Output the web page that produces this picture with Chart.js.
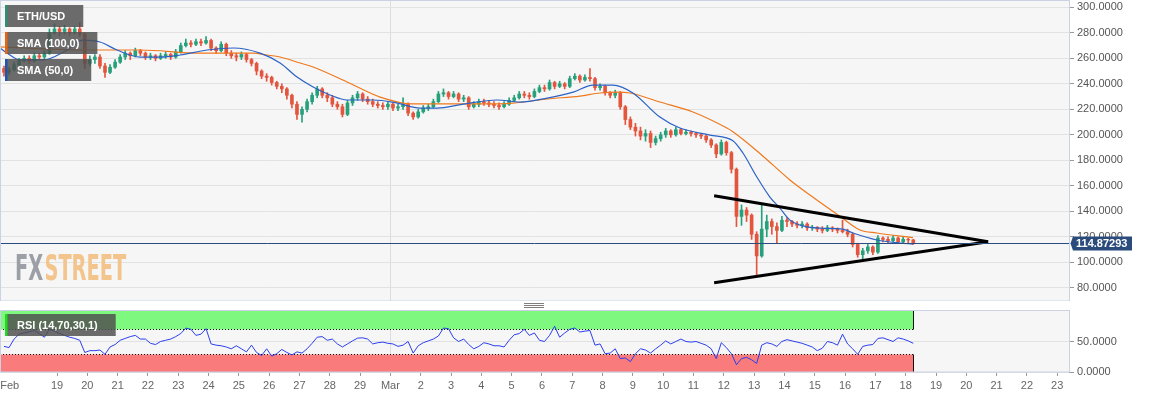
<!DOCTYPE html>
<html>
<head>
<meta charset="utf-8">
<title>ETH/USD</title>
<script src="https://cdn.jsdelivr.net/npm/chart.js@4.4.1/dist/chart.umd.min.js"></script>
<style>
  html, body { margin: 0; padding: 0; background: #fff; }
  #wrap { position: relative; width: 1153px; height: 399px; overflow: hidden; }
  canvas { position: absolute; left: 0; }
  #price-chart { top: 0; }
  #rsi-chart { top: 300px; }
</style>
</head>
<body>
<div id="wrap">
  <canvas id="price-chart" width="1153" height="301"></canvas>
  <canvas id="rsi-chart" width="1153" height="99"></canvas>
</div>
<script>
// ── Data ───────────────────────────────────────────────────────────
// time unit = days since Feb 18 00:00, one candle every 4 hours
const START_DAY = -0.75;
const STEP = 1 / 6;
const FIRST_OPEN = 252;
const LAST_PRICE = 114.87293;

const closes = [
  249, 251, 255, 258, 260, 258, 262, 261, 264, 280,
  283, 281, 283, 280, 283, 279, 256, 259, 261, 254,
  249, 253, 257, 261, 264, 262, 266, 264, 261, 262,
  260, 262, 263, 261, 265, 270, 272, 271, 273, 272,
  274, 268, 266, 271, 264, 262, 261, 263, 259, 256,
  250, 246, 245, 241, 238, 236, 231, 224, 216, 220,
  226, 231, 236, 231, 229, 224, 222, 216, 225, 229,
  232, 228, 226, 224, 223, 222, 224, 221, 222, 224,
  217, 214, 218, 221, 222, 226, 232, 233, 230, 232,
  228, 229, 222, 224, 226, 225, 224, 223, 222, 224,
  227, 229, 232, 231, 230, 234, 237, 236, 241, 238,
  240, 238, 244, 246, 243, 245, 244, 237, 238, 233,
  231, 233, 222, 212, 206, 203, 199, 201, 194, 197,
  200, 203, 200, 204, 201, 202, 201, 200, 199, 196,
  192, 185, 194, 186, 173, 136, 141, 137, 122, 105,
  126, 132, 128, 125, 133, 132, 130, 129, 130, 127,
  127.5, 126, 125, 127, 126, 125, 124, 122, 114, 106,
  109, 112, 108, 119, 118, 117, 119, 116, 118, 117.5,
  114.87
];

const highs = [
  254, 253, 257, 260, 262, 262, 264, 264, 266, 283,
  287, 285, 286, 284, 285, 288, 280, 262, 263, 263,
  256, 255, 259, 263, 266, 265, 268, 267, 265, 264,
  263, 264, 265, 264, 267, 272, 275, 274, 275, 275,
  277, 275, 269, 273, 272, 266, 264, 265, 264, 260,
  257, 251, 248, 246, 242, 240, 237, 232, 226, 222,
  228, 233, 238, 237, 233, 231, 226, 224, 227, 231,
  234, 233, 230, 228, 226, 225, 226, 225, 224, 229,
  225, 218, 220, 223, 224, 228, 234, 236, 234, 234,
  233, 231, 230, 226, 228, 228, 227, 226, 225, 226,
  229, 231, 234, 234, 233, 236, 239, 239, 243, 242,
  242, 241, 246, 248, 247, 247, 252, 245, 240, 239,
  234, 235, 234, 223, 214, 209, 206, 204, 203, 199,
  202, 205, 204, 206, 205, 204, 203, 202, 201, 200,
  197, 193, 196, 195, 187, 174, 145, 143, 138, 124,
  146, 137, 134, 131, 136, 135, 133, 132, 132, 131,
  129, 128, 128, 129, 128, 127, 133, 126, 123, 115,
  111, 114, 113, 121, 120, 120, 121, 120, 120, 119,
  118
];

const lows = [
  246, 247, 250, 254, 257, 256, 257, 259, 259, 263,
  279, 278, 279, 278, 279, 277, 252, 254, 256, 252,
  245, 248, 252, 256, 259, 259, 261, 262, 259, 259,
  258, 259, 260, 259, 260, 264, 269, 269, 270, 270,
  271, 266, 264, 265, 262, 260, 258, 259, 257, 254,
  247, 244, 242, 239, 236, 233, 228, 221, 212, 210,
  218, 224, 229, 229, 226, 222, 220, 214, 215, 223,
  227, 226, 224, 222, 221, 220, 220, 219, 219, 220,
  215, 212, 213, 217, 219, 221, 225, 230, 228, 229,
  226, 226, 220, 221, 222, 223, 222, 221, 220, 221,
  223, 226, 228, 229, 228, 229, 233, 234, 235, 236,
  237, 236, 237, 243, 241, 242, 242, 235, 235, 231,
  229, 229, 220, 208, 204, 199, 196, 195, 190, 192,
  195, 198, 198, 199, 200, 200, 199, 198, 197, 194,
  190, 182, 184, 184, 170, 128, 129, 132, 118, 90,
  104, 120, 122, 115, 124, 128, 128, 127, 127, 125,
  125, 124, 123, 124, 124, 123, 123, 120, 112, 104,
  102, 107, 106, 107, 116, 115, 116, 115, 115, 115,
  114
];

const rsiValues = [
  42, 40, 54, 62, 64, 66, 68, 63, 57, 70,
  67, 63, 60, 57, 55, 52, 32, 35, 35, 36,
  29, 41, 45, 52, 55, 58, 60, 54, 54, 47,
  45, 50, 52, 54, 58, 63, 72, 70, 60, 62,
  71, 46, 44, 43, 41, 38, 43, 38, 33, 44,
  32, 27, 38, 26, 30, 37, 32, 28, 33, 31,
  38, 47, 57, 58, 52, 54, 46, 41, 46, 51,
  55.5, 56, 54, 46, 48, 49, 47, 46, 42, 44,
  50, 31, 43, 48, 51, 54, 59, 72, 71, 56,
  50, 54, 45, 38, 42, 48, 46, 43, 43, 41,
  52, 61, 63, 70, 60, 64, 52, 50, 60, 75,
  57, 64, 70, 72, 65.5, 67, 68, 44, 46, 30,
  31, 38, 22, 23, 17, 30, 38, 36, 31, 38,
  44, 51, 46, 50, 54, 50, 49, 50, 47, 44,
  38, 22, 48, 40, 30, 12, 22, 24, 20, 14,
  44, 48, 46, 42, 50, 53, 51, 49, 47, 44,
  41, 35, 39, 50, 48, 44, 62, 46, 38, 29,
  42, 44, 45, 55, 56, 53, 50, 56, 54, 51,
  47
];

const sma100Days = [
  -0.88, 1.76, 3.74, 5.72, 6.81, 7.47, 7.93, 8.36, 9.02, 9.45,
  10.57, 11.66, 12.75, 13.87, 14.96, 16.04, 17.17, 18.25, 18.91, 19.48,
  19.90, 20.89, 21.98, 23.10, 23.30, 24.19, 25.18, 25.84, 26.83, 27.49,
  28.05, 29.24
];
const sma100Values = [
  268.9, 266.5, 266.5, 264.1, 264.1, 264.1, 262.6, 261.0, 256.3, 253.2,
  241.4, 229.6, 224.2, 224.2, 224.2, 224.9, 228.1, 230.4, 232.8, 233.5,
  232.8, 225.7, 217.9, 205.3, 202.4, 185.4, 164.6, 152.8, 136.1, 125.3,
  123.0, 119.4
];

const sma50Days = [
  -0.88, -0.65, -0.22, 0.54, 1.33, 1.86, 2.42, 2.98, 3.74, 4.40,
  5.06, 5.95, 6.81, 7.70, 8.36, 8.92, 9.45, 10.01, 10.57, 11.42,
  12.22, 12.98, 13.54, 14.40, 15.52, 16.28, 17.17, 18.03, 18.68, 19.34,
  20.00, 20.89, 21.55, 22.54, 23.30, 23.63, 24.09, 24.52, 24.85, 25.18,
  25.51, 26.17, 26.93, 27.26, 28.05, 28.81, 29.24
];
const sma50Values = [
  268.1, 264.1, 258.7, 258.7, 266.5, 274.3, 272.8, 266.5, 261.0, 261.0,
  262.6, 266.5, 268.1, 264.1, 256.3, 245.3, 237.5, 231.2, 227.3, 227.3,
  224.9, 221.0, 221.0, 224.1, 227.3, 225.7, 228.8, 233.5, 239.0, 239.0,
  232.8, 213.9, 205.3, 199.8, 195.3, 185.7, 166.9, 151.2, 142.5, 133.1,
  129.2, 126.8, 126.0, 123.0, 117.5, 115.1, 114.3
];

// hand drawn symmetrical triangle
const trendDays = [22.68, 31.72];
const upperTrend = [152.2, 116.1];
const lowerTrend = [83.9, 116.1];

const priceTicks = [80, 100, 120, 140, 160, 180, 200, 220, 240, 260, 280, 300];
const rsiTicks = [0, 50];
const dayTicks = [-0.56, 1, 2, 3, 4, 5, 6, 7, 8, 9, 10, 11, 12, 13, 14, 15, 16, 17,
  18, 19, 20, 21, 22, 23, 24, 25, 26, 27, 28, 29, 30, 31, 32, 33, 34];
const dayLabels = ['Feb', '19', '20', '21', '22', '23', '24', '25', '26', '27', '28', '29',
  'Mar', '2', '3', '4', '5', '6', '7', '8', '9', '10', '11', '12', '13', '14', '15', '16',
  '17', '18', '19', '20', '21', '22', '23'];
const MONTH_START = 12; // Mar 1

// ── Axis ranges ────────────────────────────────────────────────────
const X_MIN = -0.881;
const X_MAX = 34.388;
const PRICE_MIN = 69.65;
const PRICE_MAX = 305.73;
const RSI_MAX = 101.6;

// ── Colours ────────────────────────────────────────────────────────
const UP = '#27a07c';
const DOWN = '#e4553d';
const FRAME = '#cad2e4';
const PANEL_BG = '#f6f6f6';
const GRID = '#e2e2e2';
const FONT = "'Liberation Sans', Arial, sans-serif";

Chart.defaults.font.family = FONT;
Chart.defaults.font.size = 11;
Chart.defaults.animation = false;

// ── Derived series ─────────────────────────────────────────────────
const times = closes.map(function (c, i) { return START_DAY + i * STEP; });
const opens = closes.map(function (c, i) { return i === 0 ? FIRST_OPEN : closes[i - 1]; });
const candleColors = closes.map(function (c, i) { return c >= opens[i] ? UP : DOWN; });

function pairs(xs, ys) {
  return xs.map(function (x, i) { return { x: x, y: ys[i] }; });
}

// ── Small drawing helpers ──────────────────────────────────────────
function drawTag(ctx, x, y, text, strip) {
  ctx.save();
  ctx.font = 'bold 11px ' + FONT;
  const w = ctx.measureText(text).width + 30;
  ctx.fillStyle = 'rgba(80,80,80,0.84)';
  ctx.fillRect(x, y, w, 22);
  ctx.fillStyle = strip;
  ctx.fillRect(x, y, 2.5, 22);
  ctx.fillStyle = '#fff';
  ctx.textBaseline = 'middle';
  ctx.fillText(text, x + 12, y + 11.5);
  ctx.restore();
}

function drawFrame(ctx, a) {
  ctx.save();
  ctx.strokeStyle = FRAME;
  ctx.lineWidth = 1;
  ctx.strokeRect(a.left + 0.5, a.top + 0.5, a.right - a.left, a.bottom - a.top - 0.5);
  ctx.restore();
}

function fixedWidth(scale) {
  scale.width = 84;
  scale.paddingTop = 0;
  scale.paddingBottom = 0;
}

// ── Price panel ────────────────────────────────────────────────────
const priceDecor = {
  id: 'priceDecor',
  beforeDraw: function (chart) {
    const a = chart.chartArea;
    chart.ctx.save();
    chart.ctx.fillStyle = PANEL_BG;
    chart.ctx.fillRect(a.left, a.top, a.right - a.left, a.bottom - a.top);
    chart.ctx.restore();
  },
  beforeDatasetsDraw: function (chart) {
    // watermark
    const ctx = chart.ctx;
    const a = chart.chartArea;
    ctx.save();
    ctx.font = 'bold 35px "Liberation Sans Narrow", "DejaVu Sans Condensed", ' + FONT;
    const wFx = ctx.measureText('FX').width;
    const wSt = ctx.measureText('STREET').width;
    ctx.translate(a.left + 15, a.bottom - 21);
    ctx.scale(110 / (wFx + wSt), 1);
    ctx.fillStyle = '#9d9fa6';
    ctx.fillText('FX', 0, 0);
    ctx.fillStyle = '#f3c48c';
    ctx.fillText('STREET', wFx + 2, 0);
    ctx.restore();
  },
  afterDatasetsDraw: function (chart) {
    // current price line
    const ctx = chart.ctx;
    const a = chart.chartArea;
    const y = Math.round(chart.scales.y.getPixelForValue(LAST_PRICE)) + 0.5;
    ctx.save();
    ctx.strokeStyle = '#2b4c80';
    ctx.lineWidth = 1;
    ctx.beginPath();
    ctx.moveTo(a.left, y);
    ctx.lineTo(a.right, y);
    ctx.stroke();
    ctx.restore();
  },
  afterDraw: function (chart) {
    const ctx = chart.ctx;
    const a = chart.chartArea;
    drawFrame(ctx, a);

    // price tag on the axis
    const y = Math.round(chart.scales.y.getPixelForValue(LAST_PRICE)) + 0.5;
    ctx.save();
    ctx.fillStyle = '#2b4b7c';
    ctx.beginPath();
    ctx.moveTo(a.right + 1.5, y);
    ctx.lineTo(a.right + 4, y - 7);
    ctx.lineTo(a.right + 63, y - 7);
    ctx.lineTo(a.right + 63, y + 7);
    ctx.lineTo(a.right + 4, y + 7);
    ctx.closePath();
    ctx.fill();
    ctx.fillStyle = '#fff';
    ctx.font = 'bold 11px ' + FONT;
    ctx.textBaseline = 'middle';
    ctx.fillText(LAST_PRICE.toFixed(5), a.right + 7, y + 0.5);
    ctx.restore();

    drawTag(ctx, 5, 5, 'ETH/USD', '#2f8c75');
    drawTag(ctx, 5, 32, 'SMA (100,0)', '#e8650e');
    drawTag(ctx, 5, 59, 'SMA (50,0)', '#1d55b2');
  }
};

new Chart(document.getElementById('price-chart'), {
  type: 'bar',
  data: {
    datasets: [
      {
        type: 'line',
        label: 'Triangle top',
        data: pairs(trendDays, upperTrend),
        borderColor: '#000',
        borderWidth: 3,
        pointRadius: 0,
        order: 0,
      },
      {
        type: 'line',
        label: 'Triangle bottom',
        data: pairs(trendDays, lowerTrend),
        borderColor: '#000',
        borderWidth: 3,
        pointRadius: 0,
        order: 0,
      },
      {
        type: 'line',
        label: 'SMA (50,0)',
        data: pairs(sma50Days, sma50Values),
        borderColor: '#2a62c6',
        borderWidth: 1.2,
        pointRadius: 0,
        cubicInterpolationMode: 'monotone',
        order: 1,
      },
      {
        type: 'line',
        label: 'SMA (100,0)',
        data: pairs(sma100Days, sma100Values),
        borderColor: '#f0781c',
        borderWidth: 1.2,
        pointRadius: 0,
        cubicInterpolationMode: 'monotone',
        order: 1,
      },
      {
        label: 'Bodies',
        data: times.map(function (t, i) { return { x: t, y: [opens[i], closes[i]] }; }),
        backgroundColor: candleColors,
        barThickness: 3,
        grouped: false,
        order: 2,
      },
      {
        label: 'Wicks',
        data: times.map(function (t, i) { return { x: t, y: [lows[i], highs[i]] }; }),
        backgroundColor: candleColors,
        barThickness: 1,
        grouped: false,
        order: 3,
      },
    ],
  },
  options: {
    responsive: false,
    devicePixelRatio: 1,
    events: [],
    layout: { padding: 0 },
    plugins: { legend: { display: false }, tooltip: { enabled: false } },
    scales: {
      x: {
        type: 'linear',
        min: X_MIN,
        max: X_MAX,
        offset: false,
        bounds: 'data',
        ticks: { display: false },
        grid: { color: '#dddddd', drawTicks: false, offset: false },
        border: { display: false },
        afterBuildTicks: function (s) { s.ticks = [{ value: MONTH_START }]; },
        afterFit: function (s) { s.height = 0; s.paddingLeft = 0; s.paddingRight = 0; },
      },
      y: {
        position: 'right',
        min: PRICE_MIN,
        max: PRICE_MAX,
        ticks: {
          color: '#555',
          padding: 3,
          callback: function (v) { return Number(v).toFixed(4); },
        },
        grid: { color: GRID, tickColor: '#999', tickLength: 5 },
        border: { display: false },
        afterBuildTicks: function (s) {
          s.ticks = priceTicks.map(function (v) { return { value: v }; });
        },
        afterFit: fixedWidth,
      },
    },
  },
  plugins: [priceDecor],
});

// ── RSI panel ──────────────────────────────────────────────────────
const rsiDecor = {
  id: 'rsiDecor',
  beforeDraw: function (chart) {
    const ctx = chart.ctx;
    const a = chart.chartArea;
    ctx.save();
    ctx.fillStyle = PANEL_BG;
    ctx.fillRect(a.left, a.top, a.right - a.left, a.bottom - a.top);
    // resize handle between the panels
    ctx.strokeStyle = '#808080';
    ctx.lineWidth = 1;
    [3.5, 5.5, 7.5].forEach(function (y) {
      ctx.beginPath();
      ctx.moveTo(524, y);
      ctx.lineTo(544, y);
      ctx.stroke();
    });
    ctx.restore();
  },
  beforeDatasetsDraw: function (chart) {
    const ctx = chart.ctx;
    const a = chart.chartArea;
    const xs = chart.scales.x;
    const ys = chart.scales.y;
    const xEnd = Math.round(xs.getPixelForValue(times[times.length - 1])) + 0.5;
    const y100 = ys.getPixelForValue(100);
    const y70 = Math.round(ys.getPixelForValue(70)) + 0.5;
    const y30 = Math.round(ys.getPixelForValue(30)) + 0.5;
    const y0 = ys.getPixelForValue(0);

    ctx.save();
    ctx.fillStyle = '#7ef87e';
    ctx.fillRect(a.left, y100, xEnd - a.left, y70 - y100);
    ctx.fillStyle = '#f97b7b';
    ctx.fillRect(a.left, y30, xEnd - a.left, y0 - y30);

    ctx.strokeStyle = '#111';
    ctx.lineWidth = 1;
    ctx.beginPath();
    ctx.moveTo(a.left + 0.5, y100);
    ctx.lineTo(a.left + 0.5, y70);
    ctx.moveTo(xEnd, y100);
    ctx.lineTo(xEnd, y70);
    ctx.moveTo(a.left + 0.5, y30);
    ctx.lineTo(a.left + 0.5, y0);
    ctx.moveTo(xEnd, y30);
    ctx.lineTo(xEnd, y0);
    ctx.stroke();

    ctx.setLineDash([1, 2]);
    ctx.beginPath();
    ctx.moveTo(a.left, y70);
    ctx.lineTo(xEnd, y70);
    ctx.moveTo(a.left, y30);
    ctx.lineTo(xEnd, y30);
    ctx.stroke();
    ctx.restore();
  },
  afterDraw: function (chart) {
    drawFrame(chart.ctx, chart.chartArea);
    drawTag(chart.ctx, 5, 14, 'RSI (14,70,30,1)', '#1fdc1f');
  }
};

new Chart(document.getElementById('rsi-chart'), {
  type: 'line',
  data: {
    datasets: [{
      label: 'RSI (14,70,30,1)',
      data: pairs(times, rsiValues),
      borderColor: '#2b3ff0',
      borderWidth: 1,
      pointRadius: 0,
      tension: 0,
    }],
  },
  options: {
    responsive: false,
    devicePixelRatio: 1,
    events: [],
    layout: { padding: { top: 10, left: 0, right: 0, bottom: 0 } },
    plugins: { legend: { display: false }, tooltip: { enabled: false } },
    scales: {
      x: {
        type: 'linear',
        min: X_MIN,
        max: X_MAX,
        bounds: 'data',
        ticks: {
          color: '#666',
          padding: 3,
          autoSkip: false,
          maxRotation: 0,
          callback: function (v, i) { return dayLabels[i]; },
        },
        grid: {
          color: function (c) { return c.tick && c.tick.value === MONTH_START ? '#dddddd' : 'rgba(0,0,0,0)'; },
          tickColor: function (c) { return c.tick && c.tick.value < 0 ? 'rgba(0,0,0,0)' : '#999'; },
          tickLength: 4,
        },
        border: { display: false },
        afterBuildTicks: function (s) {
          s.ticks = dayTicks.map(function (v) { return { value: v }; });
        },
        afterFit: function (s) { s.height = 27; s.paddingLeft = 0; s.paddingRight = 0; },
      },
      y: {
        position: 'right',
        min: 0,
        max: RSI_MAX,
        ticks: {
          color: '#555',
          padding: 3,
          callback: function (v) { return Number(v).toFixed(4); },
        },
        grid: { color: GRID, tickColor: '#999', tickLength: 5 },
        border: { display: false },
        afterBuildTicks: function (s) {
          s.ticks = rsiTicks.map(function (v) { return { value: v }; });
        },
        afterFit: fixedWidth,
      },
    },
  },
  plugins: [rsiDecor],
});
</script>
</body>
</html>
